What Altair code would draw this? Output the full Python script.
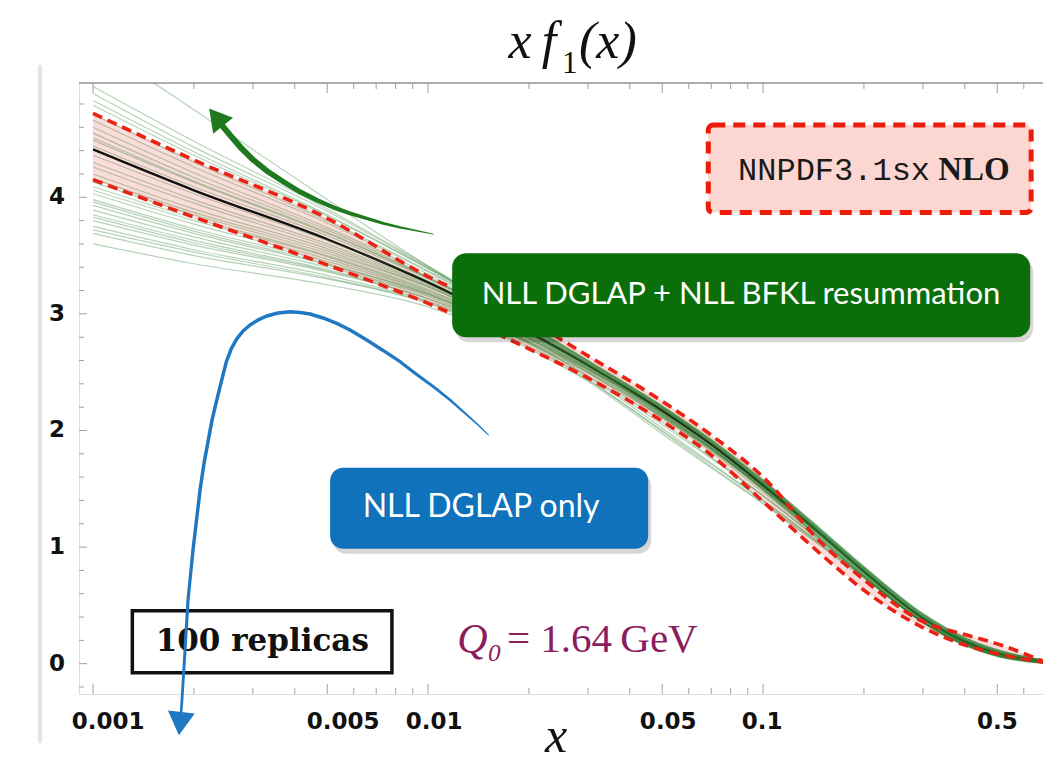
import altair as alt
import pandas as pd

# ---------------- data ----------------
X_NODES = [0.001, 0.002, 0.005, 0.01, 0.02, 0.03, 0.05, 0.07, 0.1, 0.15, 0.2, 0.3, 0.4, 0.5, 0.7]
CENTRAL = [4.41, 4.06, 3.64, 3.27, 2.84, 2.56, 2.17, 1.88, 1.53, 1.10, 0.79, 0.39, 0.19, 0.09, 0.015]
BAND_HI = [4.72, 4.32, 3.82, 3.32, 2.94, 2.64, 2.25, 1.96, 1.60, 1.03, 0.72, 0.36, 0.25, 0.17, 0.01]
BAND_LO = [4.15, 3.83, 3.42, 3.09, 2.70, 2.45, 2.08, 1.79, 1.39, 0.93, 0.63, 0.31, 0.16, 0.085, 0.01]

# offsets of the replicas from the central curve, one row per replica, at X_NODES
REPLICA_OFFSETS = [
    [0.54, 0.42, 0.26, 0.14, 0.07, 0.04, 0.04, 0.04, 0.035, 0.035, 0.035, 0.03, 0.03, 0.025, 0.01],
    [0.48, 0.37, 0.24, 0.13, 0.06, 0.04, 0.04, 0.03, 0.03, 0.025, 0.025, 0.025, 0.02, 0.02, 0.01],
    [0.38, 0.30, 0.20, 0.12, 0.05, 0.03, 0.02, 0.02, 0.015, 0.015, 0.015, 0.015, 0.015, 0.01, 0.005],
    [0.30, 0.24, 0.16, 0.10, 0.05, 0.03, 0.03, 0.04, 0.045, 0.045, 0.04, 0.04, 0.035, 0.03, 0.015],
    [0.25, 0.20, 0.14, 0.09, 0.04, 0.02, -0.01, -0.01, -0.01, -0.01, -0.01, -0.01, -0.01, -0.01, -0.005],
    [0.19, 0.15, 0.10, 0.07, 0.03, 0.02, 0.02, 0.02, 0.03, 0.03, 0.03, 0.025, 0.02, 0.02, 0.01],
    [0.14, 0.11, 0.08, 0.05, 0.02, 0.01, -0.02, -0.025, -0.03, -0.03, -0.025, -0.025, -0.02, -0.02, -0.01],
    [0.08, 0.07, 0.05, 0.04, 0.02, 0.01, 0.01, 0.01, 0.01, 0.01, 0.01, 0.01, 0.01, 0.01, 0.005],
    [0.03, 0.03, 0.03, 0.03, 0.02, 0.01, -0.03, -0.035, -0.04, -0.04, -0.035, -0.035, -0.03, -0.025, -0.01],
    [-0.05, -0.03, -0.01, 0.01, 0.00, 0.00, 0.02, 0.02, 0.02, 0.02, 0.02, 0.02, 0.015, 0.015, 0.005],
    [-0.11, -0.08, -0.04, -0.01, 0.00, -0.01, -0.04, -0.045, -0.04, -0.04, -0.04, -0.035, -0.03, -0.025, -0.015],
    [-0.15, -0.11, -0.06, -0.02, -0.01, 0.00, 0.03, 0.035, 0.035, 0.03, 0.03, 0.03, 0.025, 0.02, 0.01],
    [-0.21, -0.16, -0.08, -0.03, -0.02, -0.02, -0.05, -0.06, -0.06, -0.05, -0.04, -0.035, -0.03, -0.025, -0.01],
    [-0.28, -0.21, -0.12, -0.04, -0.03, -0.03, -0.01, 0.00, 0.00, 0.00, 0.00, 0.00, 0.00, 0.00, 0.00],
    [-0.32, -0.24, -0.14, -0.06, -0.05, -0.06, -0.10, -0.11, -0.09, -0.06, -0.04, -0.03, -0.025, -0.02, -0.01],
    [-0.38, -0.29, -0.17, -0.08, -0.04, -0.03, -0.02, -0.02, -0.02, -0.02, -0.02, -0.02, -0.015, -0.015, -0.005],
    [-0.43, -0.33, -0.19, -0.09, -0.08, -0.10, -0.15, -0.16, -0.13, -0.08, -0.05, -0.03, -0.02, -0.015, -0.005],
    [-0.48, -0.37, -0.22, -0.10, -0.05, -0.03, -0.03, -0.03, -0.03, -0.03, -0.03, -0.03, -0.025, -0.02, -0.01],
    [-0.52, -0.40, -0.24, -0.11, -0.06, -0.04, 0.01, 0.02, 0.02, 0.02, 0.015, 0.015, 0.015, 0.01, 0.005],
    [-0.56, -0.43, -0.26, -0.12, -0.10, -0.12, -0.18, -0.19, -0.15, -0.09, -0.05, -0.035, -0.03, -0.02, -0.01],
    [-0.61, -0.47, -0.28, -0.14, -0.07, -0.05, -0.04, -0.03, -0.02, -0.015, -0.015, -0.015, -0.01, -0.01, -0.005],
    [-0.66, -0.51, -0.31, -0.16, -0.08, -0.06, -0.05, -0.03, -0.01, 0.00, 0.005, 0.005, 0.005, 0.005, 0.00],
    [-0.72, -0.56, -0.34, -0.18, -0.12, -0.13, -0.17, -0.17, -0.13, -0.08, -0.05, -0.03, -0.02, -0.015, -0.005],
    [-0.81, -0.63, -0.39, -0.21, -0.14, -0.14, -0.20, -0.20, -0.16, -0.10, -0.06, -0.04, -0.03, -0.02, -0.01],
    [-0.35, -0.26, -0.15, -0.07, -0.03, -0.02, 0.02, 0.03, 0.035, 0.035, 0.035, 0.035, 0.03, 0.025, 0.01],
    [-0.45, -0.35, -0.21, -0.10, -0.05, -0.04, -0.06, -0.05, -0.03, -0.01, -0.005, -0.005, -0.005, -0.005, 0.00],
    [-0.58, -0.45, -0.27, -0.14, -0.09, -0.09, -0.12, -0.12, -0.09, -0.06, -0.04, -0.03, -0.025, -0.02, -0.01],
    [0.10, 0.08, 0.06, 0.04, 0.02, 0.02, 0.04, 0.045, 0.045, 0.045, 0.045, 0.04, 0.035, 0.03, 0.015],
    [-0.25, -0.19, -0.10, -0.04, -0.02, -0.01, -0.02, -0.03, -0.04, -0.045, -0.045, -0.04, -0.035, -0.03, -0.015],
    [-0.69, -0.53, -0.33, -0.17, -0.09, -0.07, -0.06, -0.04, -0.02, 0.00, 0.005, 0.005, 0.005, 0.00, 0.00],
    [0.92, 0.69, 0.34, 0.14, 0.05, 0.03, 0.02, 0.02, 0.02, 0.015, 0.015, 0.01, 0.01, 0.01, 0.005],
    [0.42, 0.33, 0.21, 0.12, 0.06, 0.04, 0.03, 0.02, 0.01, 0.00, -0.01, -0.01, -0.01, -0.01, -0.005],
]

XTICK_LABELED = [0.001, 0.005, 0.01, 0.05, 0.1, 0.5]
XTICK_TEXT = ["0.001", "0.005", "0.01", "0.05", "0.1", "0.5"]
XTICK_MINOR = [0.002, 0.003, 0.004, 0.006, 0.007, 0.008, 0.009,
               0.02, 0.03, 0.04, 0.06, 0.07, 0.08, 0.09, 0.2, 0.3, 0.4, 0.6]
YTICK_MAJOR = [0, 1, 2, 3, 4]
YTICK_TEXT = ["0", "1", "2", "3", "4"]
YTICK_MINOR = [-0.2, 0.2, 0.4, 0.6, 0.8, 1.2, 1.4, 1.6, 1.8, 2.2, 2.4, 2.6, 2.8,
               3.2, 3.4, 3.6, 3.8, 4.2, 4.4, 4.6, 4.8]

# annotation arrows (data coordinates, in drawing order)
GREEN_ARROW_X = [0.01037, 0.009253, 0.008250, 0.007355, 0.006561, 0.005851, 0.005216, 0.004654,
                 0.004148, 0.003699, 0.003300, 0.003010, 0.002747, 0.002564, 0.002422]
GREEN_ARROW_Y = [3.684, 3.713, 3.742, 3.776, 3.819, 3.862, 3.913, 3.976,
                 4.047, 4.133, 4.227, 4.319, 4.433, 4.533, 4.619]
GREEN_ARROW_W = [0.8, 1.5, 2.2, 2.8, 3.3, 3.8, 4.2, 4.6, 5.0, 5.3, 5.6, 5.8, 6.0, 6.0, 6.0]
GREEN_HEAD = [0.00233, 4.687]

BLUE_ARROW_X = [0.001831, 0.001843, 0.001882, 0.001921, 0.001988, 0.002087, 0.002145, 0.002209,
                0.002266, 0.002341, 0.002420, 0.002500, 0.002585, 0.002685, 0.002804, 0.002942,
                0.003109, 0.003300, 0.003566, 0.003872, 0.004148, 0.004444, 0.004860, 0.005339,
                0.005851, 0.006561, 0.007340, 0.008250, 0.009208, 0.010370, 0.011635, 0.013044,
                0.014101, 0.015136]
BLUE_ARROW_Y = [-0.428, -0.308, 0.120, 0.548, 0.977, 1.491, 1.722, 1.919,
                2.091, 2.262, 2.430, 2.590, 2.700, 2.785, 2.853, 2.905,
                2.948, 2.982, 3.008, 3.019, 3.012, 2.999, 2.965, 2.919,
                2.862, 2.776, 2.686, 2.590, 2.485, 2.376, 2.262, 2.134,
                2.048, 1.962]
BLUE_ARROW_W = [2.6, 2.8, 3.0, 3.2, 3.4, 3.5, 3.5, 3.5, 3.5, 3.5, 3.5, 3.5, 3.5, 3.5, 3.5, 3.5,
                3.5, 3.5, 3.5, 3.5, 3.5, 3.5, 3.5, 3.5, 3.5, 3.4, 3.3, 3.2, 3.1, 3.0, 2.6, 2.0,
                1.5, 0.9]
BLUE_HEAD = [0.001819, -0.514]

# ---------------- layout ----------------
X_MIN, X_MAX = 0.000908, 0.6846
Y_MIN, Y_MAX = -0.26, 4.98
W, H = 964, 611

XS = alt.Scale(type="log", domain=[X_MIN, X_MAX], nice=False)
YS = alt.Scale(domain=[Y_MIN, Y_MAX], nice=False, zero=False)


def xe(field="x"):
    return alt.X(f"{field}:Q", scale=XS, axis=None)


def ye(field="y"):
    return alt.Y(f"{field}:Q", scale=YS, axis=None)


curve_df = pd.DataFrame({"x": X_NODES, "c": CENTRAL, "hi": BAND_HI, "lo": BAND_LO})

rep_rows = []
for r, offs in enumerate(REPLICA_OFFSETS):
    for xv, cv, ov in zip(X_NODES, CENTRAL, offs):
        rep_rows.append({"rep": r, "x": xv, "y": round(cv + ov, 4)})
rep_df = pd.DataFrame(rep_rows)

red_df = pd.DataFrame(
    [{"x": xv, "y": v, "b": "hi"} for xv, v in zip(X_NODES, BAND_HI)]
    + [{"x": xv, "y": v, "b": "lo"} for xv, v in zip(X_NODES, BAND_LO)]
)

x_axis = alt.Axis(labels=False, ticks=False, grid=False, title=None,
                  domain=True, domainColor="#a8a8a8", domainWidth=1.5)
y_axis = alt.Axis(labels=False, ticks=False, grid=False, title=None,
                  domain=True, domainColor="#9a9a9a", domainWidth=1.5)

band = alt.Chart(curve_df).mark_area(
    color="#f4b4ae", opacity=0.45, interpolate="monotone", clip=True
).encode(
    x=alt.X("x:Q", scale=XS, axis=x_axis),
    y=alt.Y("hi:Q", scale=YS, axis=y_axis),
    y2="lo:Q",
)

central = alt.Chart(curve_df).mark_line(
    color="#111111", strokeWidth=2.4, interpolate="monotone", clip=True
).encode(x=xe(), y=ye("c"))

reps = alt.Chart(rep_df).mark_line(
    color="#2e7d32", opacity=0.35, strokeWidth=1.2, interpolate="monotone", clip=True
).encode(x=xe(), y=ye(), detail="rep:N")

red = alt.Chart(red_df).mark_line(
    color="#ea2113", strokeWidth=3.6, strokeDash=[10, 6], interpolate="monotone", clip=True
).encode(x=xe(), y=ye(), detail="b:N")

# ticks (inward, Mathematica style) and tick labels
xmaj_df = pd.DataFrame({"x": XTICK_LABELED, "t": XTICK_TEXT})
xmin_df = pd.DataFrame({"x": XTICK_MINOR})
ymaj_df = pd.DataFrame({"y": YTICK_MAJOR, "t": YTICK_TEXT})
ymin_df = pd.DataFrame({"y": YTICK_MINOR})
tick_color = "#a0a0a0"
ticks = [
    alt.Chart(xmaj_df).mark_rule(color=tick_color, strokeWidth=1).encode(
        x=xe(), y=alt.value(H), y2=alt.value(H - 10)),
    alt.Chart(xmin_df).mark_rule(color=tick_color, strokeWidth=1).encode(
        x=xe(), y=alt.value(H), y2=alt.value(H - 6)),
    alt.Chart(xmaj_df).mark_rule(color=tick_color, strokeWidth=1).encode(
        x=xe(), y=alt.value(0), y2=alt.value(10)),
    alt.Chart(xmin_df).mark_rule(color=tick_color, strokeWidth=1).encode(
        x=xe(), y=alt.value(0), y2=alt.value(6)),
    alt.Chart(ymaj_df).mark_rule(color=tick_color, strokeWidth=1).encode(
        y=ye(), x=alt.value(0), x2=alt.value(8)),
    alt.Chart(ymin_df).mark_rule(color=tick_color, strokeWidth=1).encode(
        y=ye(), x=alt.value(0), x2=alt.value(5)),
]

# x tick labels: the reference sets the small-x labels a little to the right of their ticks
label_dx = [15, 16, 6, 6, -1, 0]
tick_labels = []
for xv, tx, dx in zip(XTICK_LABELED, XTICK_TEXT, label_dx):
    df = pd.DataFrame([{"x": xv, "t": tx}])
    tick_labels.append(
        alt.Chart(df).mark_text(
            font="DejaVu Sans", fontSize=23, fontWeight="bold", color="#111111",
            align="center", baseline="middle", dx=dx
        ).encode(x=xe(), y=alt.value(H + 28), text="t:N")
    )
tick_labels.append(
    alt.Chart(ymaj_df).mark_text(
        font="DejaVu Sans", fontSize=23, fontWeight="bold", color="#111111",
        align="right", baseline="middle"
    ).encode(y=ye(), x=alt.value(-14), text="t:N")
)

frame_df = pd.DataFrame([{"x": X_MIN, "x2": X_MAX, "y": Y_MAX}])
top_frame = alt.Chart(frame_df).mark_rule(color="#9a9a9a", strokeWidth=1.5).encode(
    x=xe(), x2="x2:Q", y=ye())

# faint slide-frame shadow at the far left of the picture
shadow_line = alt.Chart(pd.DataFrame([{"k": 0}])).mark_rule(
    color="#e4e4e4", strokeWidth=4
).encode(x=alt.value(-39), y=alt.value(-18), y2=alt.value(660))

# ---------------- annotation boxes ----------------
green_box = pd.DataFrame([{"x": 0.0118, "x2": 0.627, "y": 3.52, "y2": 2.80}])
blue_box = pd.DataFrame([{"x": 0.0051, "x2": 0.0454, "y": 1.68, "y2": 0.985}])
pink_box = pd.DataFrame([{"x": 0.0686, "x2": 0.631, "y": 4.62, "y2": 3.87}])
rep_box = pd.DataFrame([{"x": 0.00131, "x2": 0.0078, "y": 0.454, "y2": -0.077}])


def rect(df, **kw):
    return alt.Chart(df).mark_rect(**kw).encode(x=xe(), x2="x2:Q", y=ye(), y2="y2:Q")


shadow_kw = dict(color="#000000", opacity=0.16, xOffset=3, x2Offset=3, yOffset=5, y2Offset=5)
boxes = [
    rect(green_box, cornerRadius=14, **shadow_kw),
    rect(green_box, cornerRadius=14, color="#0a6e0a"),
    rect(blue_box, cornerRadius=13, **shadow_kw),
    rect(blue_box, cornerRadius=13, color="#0f72bb"),
    rect(pink_box, cornerRadius=5, fill="#fcd6d1", stroke="#ee1c0c", strokeWidth=5,
         strokeDash=[12, 8]),
    rect(rep_box, fill="#ffffff", stroke="#111111", strokeWidth=3.5),
]


def label(xv, yv, text, **kw):
    df = pd.DataFrame([{"x": xv, "y": yv, "t": text}])
    return alt.Chart(df).mark_text(baseline="middle", **kw).encode(x=xe(), y=ye(), text="t:N")


texts = [
    label(0.0859, 3.16, "NLL DGLAP + NLL BFKL resummation", font="Lato", fontSize=31,
          color="#ffffff", align="center"),
    label(0.0144, 1.345, "NLL DGLAP only", font="Lato", fontSize=32,
          color="#ffffff", align="center"),
    label(0.315, 4.233, "NNPDF3.1sx", font="Liberation Mono", fontSize=32,
          color="#1a1a1a", align="right"),
    label(0.333, 4.233, "NLO", font="Liberation Serif", fontSize=33, fontWeight="bold",
          color="#1a1a1a", align="left"),
    label(0.0032, 0.185, "100 replicas", font="DejaVu Serif", fontSize=31, fontWeight="bold",
          color="#111111", align="center"),
    label(0.01664, 0.206, "Q₀", font="Liberation Serif", fontSize=42, fontStyle="italic",
          color="#8b1d5e", align="right"),
    label(0.0172, 0.206, "= 1.64\u2009GeV", font="Liberation Serif", fontSize=41,
          color="#8b1d5e", align="left"),
]


# titles as text pieces (pixel placement relative to the plot area)
def ptext(px, py, text, **kw):
    df = pd.DataFrame([{"t": text}])
    return alt.Chart(df).mark_text(baseline="alphabetic", color="#111111", **kw).encode(
        x=alt.value(px), y=alt.value(py), text="t:N")


titles = [
    ptext(441, -25, "x", font="Liberation Serif", fontStyle="italic", fontSize=52, align="center"),
    ptext(470, -25, "f", font="Liberation Serif", fontStyle="italic", fontSize=52, align="center"),
    ptext(483, -10, "1", font="Liberation Serif", fontSize=31, align="left"),
    ptext(500, -25, "(x)", font="Liberation Serif", fontStyle="italic", fontSize=52, align="left"),
    ptext(477, 669, "x", font="Liberation Serif", fontStyle="italic", fontSize=50, align="center"),
]

# ---------------- arrows ----------------
g_df = pd.DataFrame({"x": GREEN_ARROW_X, "y": GREEN_ARROW_Y, "w": GREEN_ARROW_W,
                     "i": list(range(len(GREEN_ARROW_X)))})
b_df = pd.DataFrame({"x": BLUE_ARROW_X, "y": BLUE_ARROW_Y, "w": BLUE_ARROW_W,
                     "i": list(range(len(BLUE_ARROW_X)))})
green_arrow = alt.Chart(g_df).mark_trail(color="#1f7a1f").encode(
    x=xe(), y=ye(), order="i:Q", size=alt.Size("w:Q", scale=None))
blue_arrow = alt.Chart(b_df).mark_trail(color="#1f78c1").encode(
    x=xe(), y=ye(), order="i:Q", size=alt.Size("w:Q", scale=None))
gh_df = pd.DataFrame([{"x": GREEN_HEAD[0], "y": GREEN_HEAD[1]}])
bh_df = pd.DataFrame([{"x": BLUE_HEAD[0], "y": BLUE_HEAD[1]}])
green_head = alt.Chart(gh_df).mark_point(
    shape="triangle-up", filled=True, size=650, angle=321, color="#1f7a1f", opacity=1
).encode(x=xe(), y=ye())
blue_head = alt.Chart(bh_df).mark_point(
    shape="triangle-down", filled=True, size=729, angle=6, color="#1f78c1", opacity=1
).encode(x=xe(), y=ye())

chart = alt.layer(
    band, central, reps, red, *ticks, top_frame, shadow_line, *tick_labels, *boxes, *texts,
    *titles, green_arrow, green_head, blue_arrow, blue_head,
).properties(
    width=W, height=H,
    autosize=alt.AutoSizeParams(type="none"),
    padding={"left": 71, "top": 75, "right": 0, "bottom": 71},
).configure_view(stroke=None).configure(background="#ffffff")

chart.save("out.html", embed_options={"renderer": "svg", "actions": False})
